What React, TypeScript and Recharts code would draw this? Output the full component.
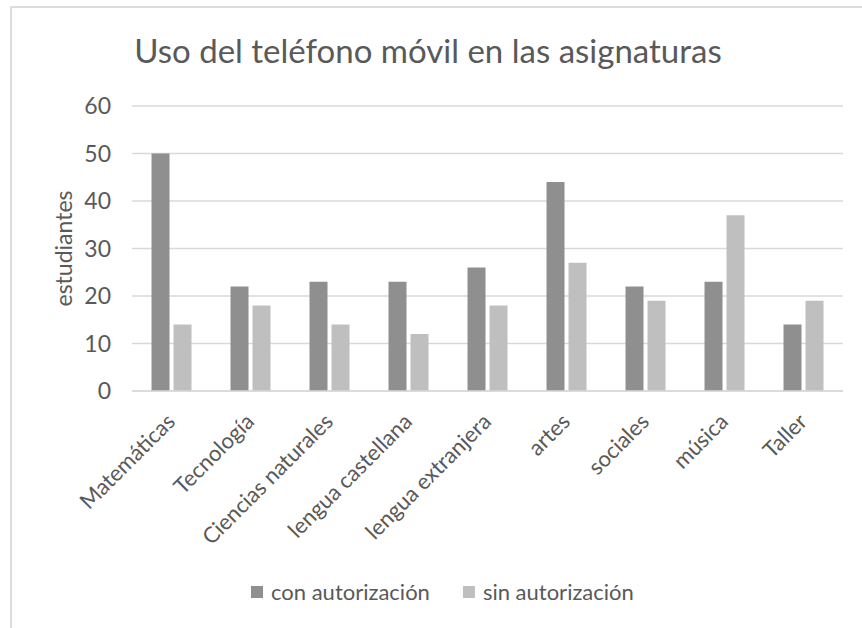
import { BarChart, Bar, XAxis, YAxis, CartesianGrid, Legend } from "recharts";

const subjects = [
  "Matemáticas",
  "Tecnología",
  "Ciencias naturales",
  "lengua castellana",
  "lengua extranjera",
  "artes",
  "sociales",
  "música",
  "Taller",
];
const conAutorizacion = [50, 22, 23, 23, 26, 44, 22, 23, 14];
const sinAutorizacion = [14, 18, 14, 12, 18, 27, 19, 37, 19];
const yTicks = [0, 10, 20, 30, 40, 50, 60];

const DARK = "#8f8f8f";
const LIGHT = "#bfbfbf";
const TEXT = "#595959";
const FONT = "Lato, 'Noto Sans', sans-serif";

const data = subjects.map((s, i) => ({
  name: s,
  con: conAutorizacion[i],
  sin: sinAutorizacion[i],
}));

function AngledTick(props: any) {
  const { x, y, payload } = props;
  return (
    <g transform={`translate(${x + 5},${y + 32})`}>
      <text
        x={0}
        y={0}
        textAnchor="end"
        transform="rotate(-45)"
        fill={TEXT}
        fontSize={22}
        fontFamily={FONT}
      >
        {payload.value}
      </text>
    </g>
  );
}

function LegendContent() {
  const items = [
    { label: "con autorización", color: DARK },
    { label: "sin autorización", color: LIGHT },
  ];
  return (
    <div style={{ display: "flex", alignItems: "center", fontFamily: FONT, fontSize: 22, color: TEXT }}>
      {items.map((it, i) => (
        <div key={i} style={{ display: "flex", alignItems: "center", marginRight: i === 0 ? 33 : 0 }}>
          <span style={{ width: 12, height: 12, background: it.color, display: "inline-block", marginRight: 8 }} />
          <span>{it.label}</span>
        </div>
      ))}
    </div>
  );
}

export default function App() {
  return (
    <div style={{ position: "absolute", left: 0, top: 0, width: 862, height: 628, overflow: "hidden", background: "#fff" }}>
      <div
        style={{
          position: "absolute",
          left: 10,
          top: 6,
          width: 900,
          height: 660,
          border: "2px solid #dcdcdc",
        }}
      />
      <div
        style={{
          position: "absolute",
          left: 0,
          top: 30,
          width: 856,
          textAlign: "center",
          fontFamily: FONT,
          fontSize: 33,
          color: TEXT,
          lineHeight: "40px",
        }}
      >
        Uso del teléfono móvil en las asignaturas
      </div>
      <div style={{ position: "absolute", left: 0, top: 0 }}>
        <BarChart
          width={862}
          height={628}
          data={data}
          margin={{ top: 106, right: 19, bottom: 0, left: 0 }}
          barCategoryGap="24.7%"
          barGap={4}
        >
          <CartesianGrid vertical={false} stroke="#d9d9d9" strokeWidth={1.5} />
          <XAxis
            dataKey="name"
            height={237}
            interval={0}
            tickLine={false}
            tickSize={0}
            tickMargin={0}
            axisLine={{ stroke: "#d9d9d9", strokeWidth: 1.5 }}
            tick={<AngledTick />}
          />
          <YAxis
            width={132}
            domain={[0, 60]}
            ticks={yTicks}
            tickLine={false}
            axisLine={false}
            tickSize={0}
            tickMargin={21}
            tick={{ fill: TEXT, fontSize: 23, fontFamily: FONT }}
            label={{
              value: "estudiantes",
              angle: -90,
              position: "insideLeft",
              offset: 64,
              style: { textAnchor: "middle", fill: TEXT, fontSize: 23, fontFamily: FONT },
            }}
          />
          <Legend
            layout="horizontal"
            verticalAlign="middle"
            align="center"
            content={<LegendContent />}
            wrapperStyle={{ position: "absolute", top: 578, left: 251, width: "auto" }}
          />
          <Bar dataKey="con" name="con autorización" fill={DARK} isAnimationActive={false} />
          <Bar dataKey="sin" name="sin autorización" fill={LIGHT} isAnimationActive={false} />
        </BarChart>
      </div>
    </div>
  );
}
